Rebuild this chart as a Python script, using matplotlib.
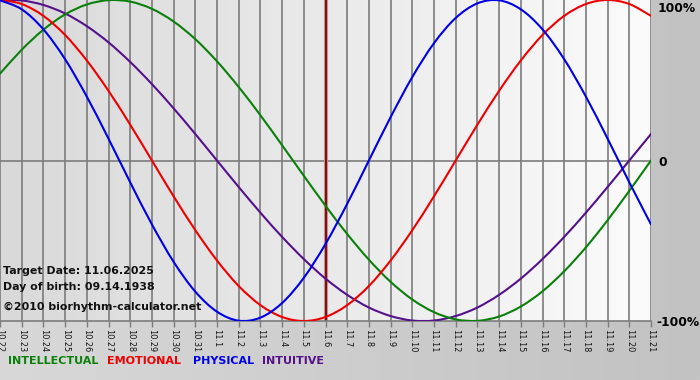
import numpy as np
import matplotlib
matplotlib.use("Agg")
import matplotlib.pyplot as plt
from matplotlib.colors import LinearSegmentedColormap
from matplotlib.path import Path
from matplotlib.patches import PathPatch

# ---- data ----
dates = ["10.22", "10.23", "10.24", "10.25", "10.26", "10.27", "10.28", "10.29", "10.30", "10.31",
         "11.1", "11.2", "11.3", "11.4", "11.5", "11.6", "11.7", "11.8", "11.9", "11.10",
         "11.11", "11.12", "11.13", "11.14", "11.15", "11.16", "11.17", "11.18", "11.19", "11.20", "11.21"]
target_label = "11.6"

physical = [0.998, 0.942, 0.817, 0.631, 0.398, 0.136, -0.136, -0.398, -0.631, -0.817,
            -0.942, -0.998, -0.979, -0.888, -0.731, -0.520, -0.270, 0.000, 0.270, 0.520,
            0.731, 0.888, 0.979, 0.998, 0.942, 0.817, 0.631, 0.398, 0.136, -0.136, -0.398]
emotional = [1.000, 0.975, 0.901, 0.782, 0.623, 0.434, 0.223, 0.000, -0.223, -0.434,
             -0.623, -0.782, -0.901, -0.975, -1.000, -0.975, -0.901, -0.782, -0.623, -0.434,
             -0.223, 0.000, 0.223, 0.434, 0.623, 0.782, 0.901, 0.975, 1.000, 0.975, 0.901]
intellectual = [0.541, 0.690, 0.815, 0.910, 0.972, 0.999, 0.990, 0.945, 0.866, 0.756,
                0.618, 0.458, 0.282, 0.095, -0.095, -0.282, -0.458, -0.618, -0.756, -0.866,
                -0.945, -0.990, -0.999, -0.972, -0.910, -0.815, -0.690, -0.541, -0.372, -0.189, 0.000]
intuitive = [0.997, 0.997, 0.969, 0.916, 0.837, 0.736, 0.614, 0.476, 0.325, 0.165,
             0.000, -0.165, -0.325, -0.476, -0.614, -0.736, -0.837, -0.916, -0.969, -0.997,
             -0.997, -0.969, -0.916, -0.837, -0.736, -0.614, -0.476, -0.325, -0.165, 0.000, 0.165]

series_names = ["INTELLECTUAL", "EMOTIONAL", "PHYSICAL", "INTUITIVE"]
series_colors = ["#0a800a", "#ee0000", "#0000e6", "#55118a"]

W, H = 700, 380
fig = plt.figure(figsize=(W / 100, H / 100), dpi=100)

# figure background gradient
bg = fig.add_axes([0, 0, 1, 1], zorder=-10)
bg.axis("off")
cm_bg = LinearSegmentedColormap.from_list("bg", ["#d8d8d8", "#c2c2c2"])
bg.imshow(np.linspace(0, 1, 256)[None, :], aspect="auto", cmap=cm_bg,
          extent=[0, 1, 0, 1], transform=bg.transAxes)

def fx(x):
    return x / W

def fy(y):
    return 1 - y / H

ax_left, ax_right, ax_top, ax_bot = 0, 651, 0, 321
ax = fig.add_axes([fx(ax_left), fy(ax_bot), (ax_right - ax_left) / W, (ax_bot - ax_top) / H])

n = len(dates)
x = np.arange(n)
ax.set_xlim(0, n - 1)
ax.set_ylim(-1, 1)

# plot-area gradient
cm_ax = LinearSegmentedColormap.from_list("ax", ["#d9d9d9", "#fbfbfb"])
ax.imshow(np.linspace(0, 1, 256)[None, :], aspect="auto", cmap=cm_ax,
          extent=[0, n - 1, -1, 1], zorder=0)

# grid lines
for xi in x:
    ax.axvline(xi, color="#7c7c7c", lw=1.2, zorder=1)
ax.axhline(0, color="#7c7c7c", lw=1.2, zorder=1)

# target date line
ti = dates.index(target_label)
ax.axvline(x[ti], color="#c89090", lw=3.0, zorder=2)
ax.axvline(x[ti], color="#7a1010", lw=1.4, zorder=2)


def smooth_path(xs, ys):
    """Smooth (Catmull-Rom style) line through the given points."""
    pts = np.column_stack([xs, ys]).astype(float)
    ext = np.vstack([pts[0], pts, pts[-1]])
    verts = [tuple(pts[0])]
    codes = [Path.MOVETO]
    for i in range(len(pts) - 1):
        p0, p1, p2, p3 = ext[i], ext[i + 1], ext[i + 2], ext[i + 3]
        c1 = p1 + (p2 - p0) / 6.0
        c2 = p2 - (p3 - p1) / 6.0
        verts += [tuple(c1), tuple(c2), tuple(p2)]
        codes += [Path.CURVE4, Path.CURVE4, Path.CURVE4]
    return Path(verts, codes)


data = {"INTELLECTUAL": intellectual, "EMOTIONAL": emotional,
        "PHYSICAL": physical, "INTUITIVE": intuitive}
order = ["INTUITIVE", "INTELLECTUAL", "EMOTIONAL", "PHYSICAL"]
for name in order:
    c = series_colors[series_names.index(name)]
    patch = PathPatch(smooth_path(x, data[name]), facecolor="none", edgecolor=c,
                      lw=1.5, zorder=3, capstyle="round", joinstyle="round")
    ax.add_patch(patch)

for s in ["top", "right", "left"]:
    ax.spines[s].set_visible(False)
ax.spines["bottom"].set_color("#7c7c7c")
ax.spines["bottom"].set_linewidth(1.2)
ax.set_yticks([])
ax.set_xticks(x)
ax.set_xticklabels(dates, rotation=270, fontsize=5.9, color="#111111")
ax.tick_params(axis="x", length=4, width=1, color="#7c7c7c", pad=2)
for lbl in ax.get_xticklabels():
    lbl.set_verticalalignment("top")
    lbl.set_horizontalalignment("center")

# right-side labels
fig.text(fx(658), fy(8), "100%", fontsize=8.8, fontweight="bold", va="center", ha="left")
fig.text(fx(658), fy(162), "0", fontsize=8.8, fontweight="bold", va="center", ha="left")
fig.text(fx(656), fy(322), "-100%", fontsize=8.8, fontweight="bold", va="center", ha="left")

# info text
info = ["Target Date: 11.06.2025", "Day of birth: 09.14.1938", "\u00a92010 biorhythm-calculator.net"]
info_y = [271, 287, 307]
for t, yy in zip(info, info_y):
    fig.text(fx(3), fy(yy), t, fontsize=7.9, fontweight="bold", va="center", ha="left",
             color="#111111", zorder=5)

# legend text
leg_x = [8, 107, 193, 262]
for name, c, lx in zip(series_names, series_colors, leg_x):
    fig.text(fx(lx), fy(361), name, fontsize=8.0, fontweight="bold", color=c,
             va="center", ha="left")

fig.savefig("out.png", dpi=100)
